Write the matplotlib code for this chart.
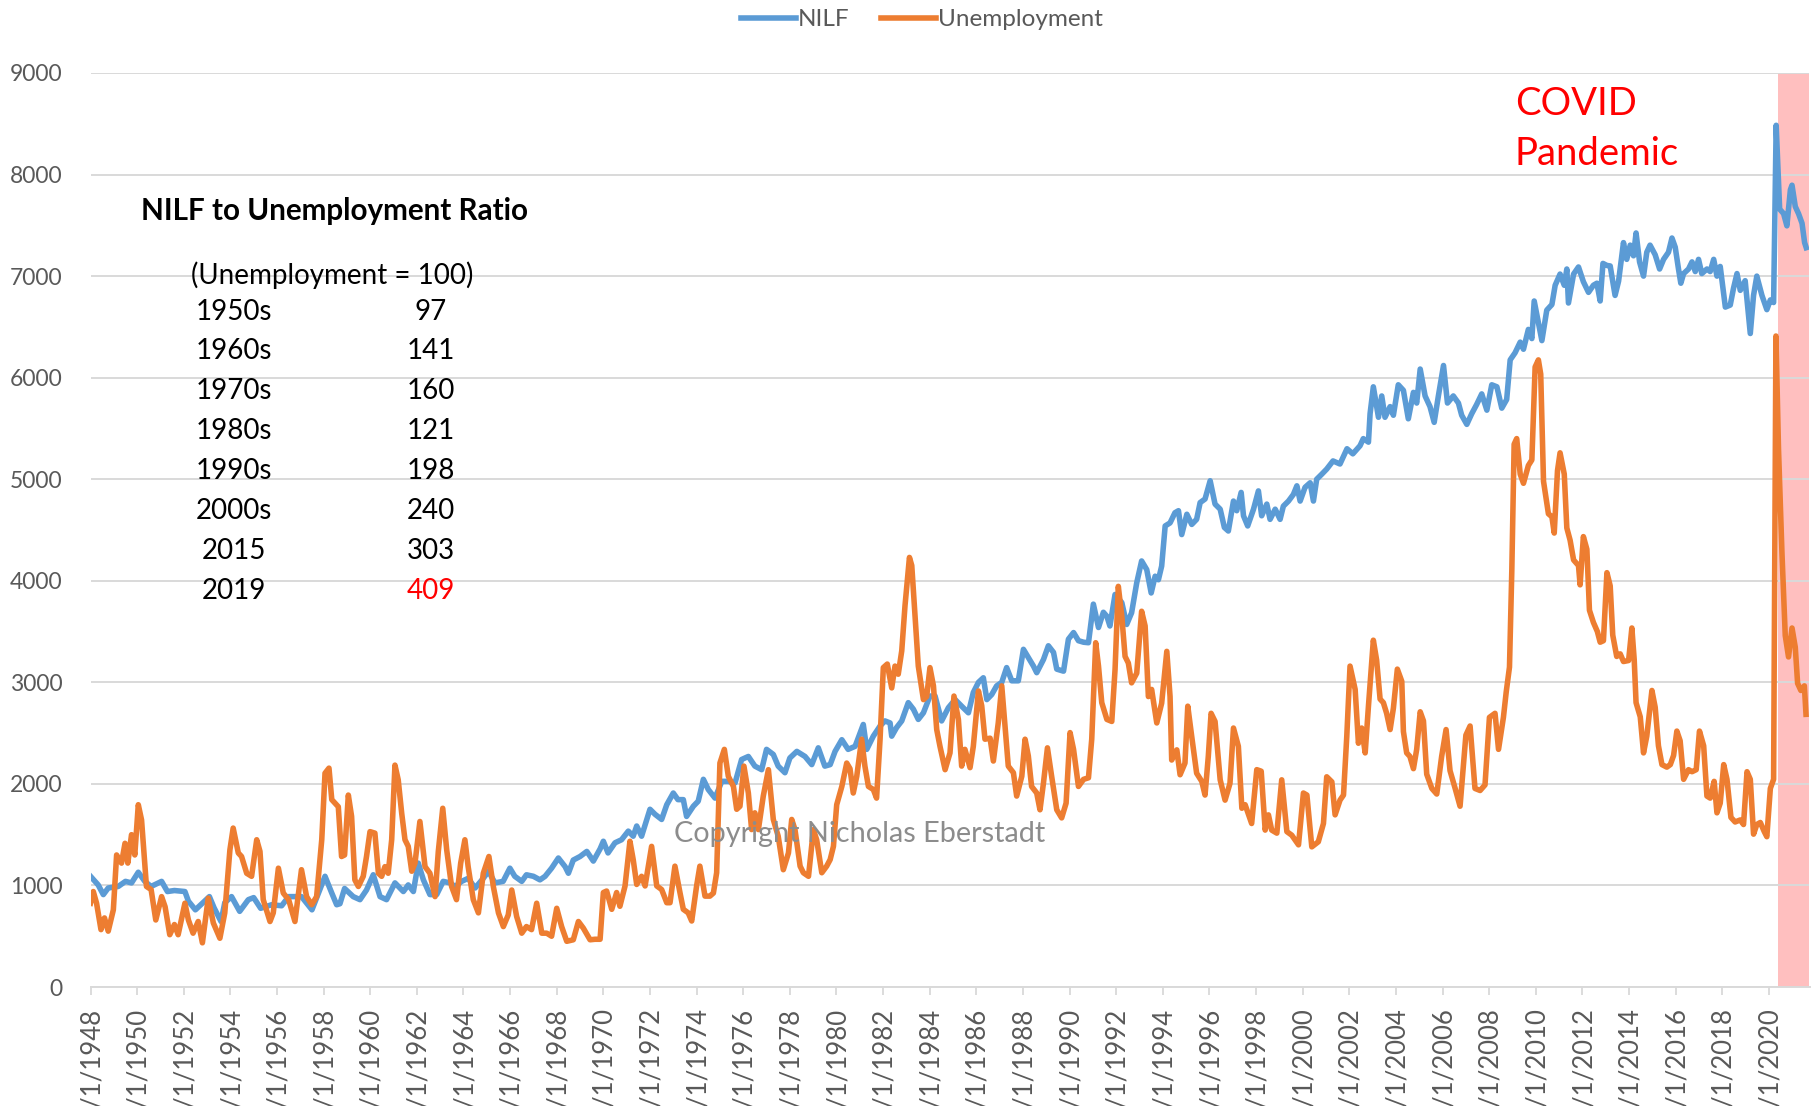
import matplotlib
matplotlib.use('Agg')
import matplotlib.pyplot as plt

plt.rcParams['font.family'] = ['Lato', 'DejaVu Sans']

# monthly series (decimal year, thousands)
nilf_years = [
  1948.00, 1948.33, 1948.55, 1948.76, 1949.19, 1949.50, 1949.76, 1950.05, 1950.33, 1950.60,
  1951.05, 1951.30, 1951.60, 1952.05, 1952.20, 1952.50, 1952.80, 1953.10, 1953.30, 1953.60,
  1953.76, 1954.05, 1954.40, 1954.77, 1955.00, 1955.30, 1955.77, 1956.20, 1956.50, 1956.80,
  1957.05, 1957.50, 1958.06, 1958.35, 1958.56, 1958.70, 1958.90, 1959.27, 1959.56, 1959.84,
  1960.13, 1960.42, 1960.70, 1961.06, 1961.42, 1961.63, 1961.85, 1962.06, 1962.28, 1962.56,
  1962.85, 1963.13, 1963.42, 1963.64, 1963.92, 1964.20, 1964.50, 1964.85, 1965.07, 1965.35,
  1965.70, 1965.99, 1966.20, 1966.50, 1966.70, 1967.00, 1967.28, 1967.50, 1967.78, 1968.07,
  1968.36, 1968.50, 1968.71, 1969.00, 1969.29, 1969.57, 1969.86, 1970.00, 1970.20, 1970.50,
  1970.78, 1971.07, 1971.28, 1971.43, 1971.64, 1972.00, 1972.22, 1972.50, 1972.72, 1973.00,
  1973.20, 1973.43, 1973.57, 1973.86, 1974.07, 1974.29, 1974.50, 1974.79, 1975.08, 1975.36,
  1975.65, 1975.93, 1976.22, 1976.50, 1976.79, 1977.00, 1977.29, 1977.50, 1977.79, 1978.00,
  1978.30, 1978.65, 1978.94, 1979.22, 1979.50, 1979.73, 1979.94, 1980.23, 1980.50, 1980.80,
  1981.15, 1981.30, 1981.58, 1981.87, 1982.08, 1982.30, 1982.37, 1982.58, 1982.80, 1983.08,
  1983.30, 1983.51, 1983.73, 1984.01, 1984.23, 1984.51, 1984.80, 1985.09, 1985.37, 1985.66,
  1985.87, 1986.09, 1986.30, 1986.45, 1986.66, 1986.87, 1987.09, 1987.30, 1987.52, 1987.80,
  1988.02, 1988.23, 1988.45, 1988.59, 1988.88, 1989.09, 1989.31, 1989.45, 1989.74, 1989.95,
  1990.17, 1990.38, 1990.60, 1990.81, 1991.02, 1991.24, 1991.45, 1991.60, 1991.73, 1991.95,
  1992.24, 1992.45, 1992.66, 1992.88, 1993.09, 1993.31, 1993.50, 1993.67, 1993.81, 1993.95,
  1994.10, 1994.31, 1994.52, 1994.67, 1994.81, 1995.03, 1995.24, 1995.45, 1995.60, 1995.81,
  1996.03, 1996.24, 1996.46, 1996.64, 1996.81, 1997.03, 1997.17, 1997.36, 1997.46, 1997.64,
  1997.89, 1998.10, 1998.24, 1998.46, 1998.60, 1998.82, 1999.03, 1999.17, 1999.39, 1999.60,
  1999.75, 1999.89, 2000.10, 2000.32, 2000.46, 2000.60, 2000.82, 2001.03, 2001.30, 2001.60,
  2001.90, 2002.15, 2002.46, 2002.60, 2002.82, 2002.89, 2003.03, 2003.25, 2003.39, 2003.53,
  2003.75, 2003.89, 2004.10, 2004.32, 2004.53, 2004.75, 2004.89, 2005.04, 2005.25, 2005.46,
  2005.64, 2005.82, 2006.04, 2006.21, 2006.46, 2006.68, 2006.82, 2007.04, 2007.25, 2007.46,
  2007.68, 2007.90, 2008.11, 2008.33, 2008.54, 2008.75, 2008.90, 2009.11, 2009.33, 2009.47,
  2009.68, 2009.83, 2009.93, 2010.11, 2010.26, 2010.47, 2010.69, 2010.83, 2011.04, 2011.22,
  2011.33, 2011.40, 2011.62, 2011.83, 2012.04, 2012.26, 2012.47, 2012.62, 2012.76, 2012.88,
  2013.05, 2013.19, 2013.40, 2013.55, 2013.76, 2013.90, 2014.05, 2014.19, 2014.30, 2014.45,
  2014.62, 2014.76, 2014.90, 2015.12, 2015.31, 2015.48, 2015.69, 2015.84, 2015.98, 2016.12,
  2016.22, 2016.34, 2016.55, 2016.70, 2016.84, 2016.98, 2017.12, 2017.34, 2017.48, 2017.63,
  2017.77, 2017.91, 2018.13, 2018.34, 2018.48, 2018.63, 2018.77, 2018.98, 2019.20, 2019.34,
  2019.48, 2019.70, 2019.91, 2020.06, 2020.20, 2020.31, 2020.46, 2020.63, 2020.77, 2020.92,
  2020.99, 2021.13, 2021.27, 2021.42, 2021.53, 2021.60]
nilf_values = [
  1090, 1005, 910, 975, 990, 1040, 1025, 1130, 1040, 990,
  1040, 940, 950, 940, 845, 760, 825, 890, 780, 645,
  830, 890, 745, 860, 880, 775, 810, 800, 890, 890,
  890, 760, 1090, 925, 810, 820, 970, 890, 860, 955,
  1105, 890, 860, 1025, 940, 1005, 940, 1220, 1055, 910,
  910, 1040, 1025, 990, 1040, 1070, 975, 1070, 1140, 1025,
  1040, 1170, 1090, 1040, 1105, 1090, 1055, 1090, 1170, 1270,
  1185, 1120, 1250, 1285, 1335, 1240, 1360, 1435, 1320, 1420,
  1450, 1535, 1485, 1585, 1485, 1750, 1700, 1650, 1795, 1910,
  1845, 1845, 1680, 1780, 1830, 2045, 1945, 1860, 2025, 2025,
  2010, 2240, 2270, 2175, 2140, 2340, 2290, 2175, 2110, 2255,
  2320, 2270, 2190, 2355, 2175, 2190, 2320, 2435, 2340, 2370,
  2585, 2340, 2470, 2570, 2620, 2600, 2470, 2555, 2620, 2800,
  2735, 2635, 2700, 2865, 2865, 2620, 2750, 2830, 2765, 2700,
  2900, 3000, 3045, 2830, 2880, 2965, 3000, 3145, 3015, 3015,
  3325, 3245, 3160, 3095, 3225, 3360, 3295, 3130, 3110, 3425,
  3490, 3410, 3395, 3390, 3770, 3540, 3690, 3650, 3555, 3865,
  3785, 3570, 3685, 3980, 4195, 4110, 3880, 4045, 4010, 4145,
  4540, 4570, 4670, 4690, 4455, 4655, 4555, 4605, 4770, 4805,
  4985, 4755, 4705, 4525, 4490, 4785, 4690, 4870, 4640, 4540,
  4705, 4885, 4640, 4755, 4605, 4705, 4605, 4735, 4785, 4850,
  4935, 4785, 4920, 4965, 4785, 5000, 5050, 5100, 5180, 5150,
  5300, 5250, 5330, 5400, 5365, 5645, 5910, 5610, 5820, 5610,
  5715, 5630, 5930, 5875, 5595, 5855, 5750, 6085, 5820, 5715,
  5560, 5820, 6120, 5750, 5820, 5750, 5630, 5540, 5645, 5735,
  5840, 5680, 5930, 5910, 5700, 5785, 6175, 6245, 6350, 6280,
  6475, 6385, 6755, 6545, 6365, 6665, 6720, 6910, 7020, 6910,
  7070, 6735, 7020, 7090, 6945, 6840, 6910, 6930, 6755, 7125,
  7105, 7100, 6810, 6950, 7330, 7165, 7305, 7200, 7425, 7140,
  7000, 7235, 7305, 7210, 7070, 7165, 7235, 7375, 7285, 7070,
  6930, 7025, 7070, 7140, 7045, 7165, 7025, 7070, 7045, 7165,
  7000, 7095, 6695, 6715, 6880, 7025, 6860, 6955, 6435, 6810,
  7000, 6810, 6670, 6765, 6740, 8485, 7660, 7615, 7495, 7850,
  7895, 7685, 7615, 7520, 7330, 7280]

unemp_years = [
  1948.00, 1948.12, 1948.26, 1948.45, 1948.60, 1948.76, 1948.98, 1949.12, 1949.33, 1949.48,
  1949.60, 1949.76, 1949.90, 1950.05, 1950.19, 1950.40, 1950.60, 1950.80, 1951.05, 1951.20,
  1951.40, 1951.60, 1951.76, 1952.05, 1952.20, 1952.40, 1952.62, 1952.80, 1953.05, 1953.27,
  1953.55, 1953.76, 1953.98, 1954.12, 1954.34, 1954.48, 1954.70, 1954.91, 1955.13, 1955.27,
  1955.41, 1955.70, 1955.84, 1956.06, 1956.27, 1956.50, 1956.77, 1957.05, 1957.27, 1957.49,
  1957.70, 1957.92, 1958.06, 1958.23, 1958.35, 1958.63, 1958.77, 1958.90, 1959.06, 1959.20,
  1959.34, 1959.49, 1959.70, 1959.84, 1959.99, 1960.20, 1960.35, 1960.49, 1960.63, 1960.77,
  1960.92, 1961.06, 1961.20, 1961.35, 1961.49, 1961.63, 1961.78, 1961.92, 1962.13, 1962.35,
  1962.56, 1962.78, 1962.92, 1963.11, 1963.28, 1963.49, 1963.70, 1963.88, 1964.06, 1964.20,
  1964.42, 1964.64, 1964.85, 1965.09, 1965.28, 1965.50, 1965.71, 1965.92, 1966.07, 1966.28,
  1966.50, 1966.70, 1966.92, 1967.14, 1967.36, 1967.57, 1967.78, 1968.00, 1968.21, 1968.43,
  1968.71, 1968.93, 1969.14, 1969.43, 1969.64, 1969.86, 1970.00, 1970.14, 1970.36, 1970.57,
  1970.71, 1970.93, 1971.14, 1971.28, 1971.43, 1971.64, 1971.79, 1972.07, 1972.29, 1972.50,
  1972.72, 1972.86, 1973.07, 1973.29, 1973.43, 1973.64, 1973.79, 1974.00, 1974.14, 1974.36,
  1974.57, 1974.72, 1974.86, 1975.00, 1975.19, 1975.36, 1975.58, 1975.72, 1975.86, 1976.03,
  1976.22, 1976.36, 1976.50, 1976.65, 1976.86, 1977.08, 1977.29, 1977.50, 1977.72, 1977.94,
  1978.08, 1978.22, 1978.44, 1978.58, 1978.80, 1979.01, 1979.15, 1979.37, 1979.58, 1979.73,
  1979.87, 1980.01, 1980.23, 1980.44, 1980.58, 1980.72, 1980.87, 1981.08, 1981.22, 1981.37,
  1981.58, 1981.72, 1981.87, 1982.01, 1982.18, 1982.37, 1982.51, 1982.65, 1982.80, 1982.94,
  1983.13, 1983.23, 1983.37, 1983.51, 1983.73, 1983.87, 1984.01, 1984.16, 1984.30, 1984.44,
  1984.66, 1984.87, 1985.04, 1985.23, 1985.37, 1985.51, 1985.73, 1985.87, 1986.09, 1986.23,
  1986.37, 1986.59, 1986.73, 1986.94, 1987.09, 1987.23, 1987.37, 1987.59, 1987.73, 1987.95,
  1988.09, 1988.23, 1988.37, 1988.59, 1988.73, 1988.88, 1989.05, 1989.23, 1989.45, 1989.66,
  1989.85, 1990.02, 1990.17, 1990.38, 1990.60, 1990.81, 1990.95, 1991.12, 1991.24, 1991.38,
  1991.60, 1991.81, 1991.95, 1992.09, 1992.24, 1992.38, 1992.52, 1992.66, 1992.88, 1993.09,
  1993.24, 1993.38, 1993.52, 1993.74, 1993.95, 1994.17, 1994.31, 1994.38, 1994.60, 1994.74,
  1994.95, 1995.07, 1995.24, 1995.45, 1995.67, 1995.81, 1995.95, 1996.07, 1996.24, 1996.46,
  1996.67, 1996.88, 1997.03, 1997.24, 1997.39, 1997.53, 1997.81, 1998.03, 1998.22, 1998.39,
  1998.53, 1998.67, 1998.89, 1999.10, 1999.32, 1999.53, 1999.82, 2000.03, 2000.18, 2000.39,
  2000.67, 2000.89, 2001.03, 2001.25, 2001.39, 2001.60, 2001.75, 2001.89, 2002.03, 2002.25,
  2002.39, 2002.53, 2002.68, 2002.82, 2003.03, 2003.17, 2003.32, 2003.46, 2003.60, 2003.75,
  2003.89, 2004.06, 2004.25, 2004.32, 2004.46, 2004.60, 2004.75, 2004.89, 2005.04, 2005.18,
  2005.32, 2005.54, 2005.75, 2005.96, 2006.15, 2006.32, 2006.54, 2006.75, 2007.00, 2007.18,
  2007.39, 2007.61, 2007.82, 2008.01, 2008.25, 2008.40, 2008.61, 2008.73, 2008.87, 2008.97,
  2009.07, 2009.18, 2009.33, 2009.47, 2009.68, 2009.83, 2009.97, 2010.11, 2010.21, 2010.33,
  2010.54, 2010.69, 2010.79, 2010.93, 2011.04, 2011.22, 2011.33, 2011.47, 2011.62, 2011.83,
  2011.90, 2012.04, 2012.19, 2012.30, 2012.47, 2012.64, 2012.76, 2012.90, 2013.05, 2013.19,
  2013.30, 2013.47, 2013.62, 2013.76, 2013.98, 2014.12, 2014.22, 2014.30, 2014.48, 2014.62,
  2014.76, 2014.98, 2015.12, 2015.26, 2015.41, 2015.62, 2015.77, 2015.91, 2016.05, 2016.19,
  2016.34, 2016.55, 2016.70, 2016.88, 2017.02, 2017.20, 2017.34, 2017.48, 2017.65, 2017.77,
  2017.91, 2018.06, 2018.20, 2018.37, 2018.55, 2018.77, 2018.91, 2019.06, 2019.20, 2019.34,
  2019.48, 2019.63, 2019.80, 2019.91, 2020.06, 2020.20, 2020.30, 2020.41, 2020.56, 2020.70,
  2020.84, 2020.99, 2021.13, 2021.23, 2021.37, 2021.52, 2021.59]
unemp_values = [
  825, 940, 825, 565, 680, 550, 760, 1300, 1220, 1415,
  1220, 1500, 1300, 1795, 1645, 990, 960, 660, 890, 790,
  515, 615, 515, 825, 660, 530, 645, 435, 875, 630,
  480, 730, 1350, 1565, 1320, 1285, 1120, 1090, 1450, 1335,
  860, 645, 730, 1170, 925, 860, 645, 1155, 890, 810,
  890, 1450, 2105, 2155, 1845, 1775, 1285, 1300, 1890, 1680,
  1055, 990, 1090, 1285, 1530, 1515, 1120, 1090, 1185, 1120,
  1450, 2185, 2040, 1710, 1450, 1385, 1140, 1220, 1630, 1185,
  1120, 890, 1335, 1760, 1350, 990, 860, 1220, 1450, 1185,
  860, 730, 1120, 1285, 990, 730, 595, 710, 955, 695,
  530, 595, 565, 825, 530, 530, 500, 775, 595, 450,
  465, 645, 580, 465, 470, 470, 930, 945, 765, 930,
  795, 995, 1435, 1255, 1010, 1090, 995, 1385, 995, 960,
  830, 830, 1190, 925, 765, 730, 650, 995, 1190, 895,
  895, 925, 1125, 2205, 2340, 2075, 1975, 1750, 1780, 2175,
  1910, 1550, 1715, 1550, 1880, 2140, 1650, 1485, 1155, 1320,
  1650, 1550, 1190, 1125, 1090, 1550, 1450, 1125, 1190, 1255,
  1385, 1795, 1975, 2205, 2150, 1910, 2075, 2440, 2175, 1975,
  1945, 1860, 2440, 3145, 3180, 2945, 3160, 3080, 3310, 3755,
  4230, 4150, 3655, 3160, 2830, 2860, 3145, 2965, 2535, 2370,
  2140, 2305, 2865, 2635, 2175, 2340, 2160, 2370, 2915, 2770,
  2440, 2450, 2225, 2600, 2965, 2570, 2175, 2110, 1880, 2075,
  2440, 2275, 1975, 1910, 1745, 2010, 2355, 2075, 1745, 1665,
  1810, 2505, 2340, 1975, 2045, 2060, 2440, 3390, 3160, 2800,
  2635, 2615, 3125, 3945, 3650, 3255, 3190, 2995, 3090, 3700,
  3555, 2860, 2930, 2600, 2795, 3305, 2860, 2235, 2335, 2090,
  2205, 2765, 2465, 2105, 2025, 1890, 2270, 2695, 2615, 2040,
  1840, 2005, 2550, 2370, 1760, 1795, 1610, 2140, 2125, 1545,
  1695, 1545, 1515, 2040, 1530, 1495, 1400, 1910, 1890, 1380,
  1430, 1610, 2070, 2020, 1695, 1840, 1890, 2465, 3160, 2930,
  2400, 2550, 2305, 2765, 3415, 3220, 2835, 2800, 2695, 2535,
  2745, 3130, 3010, 2515, 2305, 2270, 2150, 2340, 2710, 2620,
  2095, 1955, 1900, 2270, 2535, 2130, 1955, 1780, 2480, 2570,
  1955, 1935, 1990, 2655, 2695, 2340, 2655, 2905, 3150, 4100,
  5345, 5400, 5050, 4960, 5135, 5190, 6105, 6175, 6035, 4980,
  4660, 4630, 4470, 5085, 5260, 5050, 4520, 4400, 4205, 4150,
  3960, 4435, 4310, 3710, 3590, 3500, 3395, 3410, 4080, 3950,
  3465, 3255, 3280, 3205, 3215, 3535, 3225, 2800, 2660, 2305,
  2470, 2920, 2755, 2375, 2190, 2165, 2190, 2280, 2520, 2425,
  2045, 2140, 2120, 2140, 2520, 2375, 1880, 1860, 2025, 1715,
  1810, 2190, 2045, 1670, 1625, 1645, 1600, 2120, 2045, 1505,
  1600, 1620, 1530, 1480, 1955, 2045, 6410, 5300, 4265, 3460,
  3250, 3535, 3345, 2990, 2920, 2965, 2685]

tick_years = list(range(1948, 2021, 2))
tick_labels = ['1/1/{}'.format(y) for y in tick_years]

ratio_periods = ['1950s', '1960s', '1970s', '1980s', '1990s', '2000s', '2015', '2019']
ratio_values = ['97', '141', '160', '121', '198', '240', '303', '409']

covid_start = 2020.39
x_end = 2021.74

W, H = 1816, 1106
fig = plt.figure(figsize=(W / 100, H / 100), dpi=100)
ax = fig.add_axes([90.5 / W, 1 - 987 / H, (1809.5 - 90.5) / W, (987 - 73) / H])

grey = '#595959'
gridc = '#d9d9d9'

ax.axvspan(covid_start, x_end, color='#ffbfbf', zorder=0.4, lw=0)
ax.plot(nilf_years, nilf_values, color='#5b9bd5', lw=4.0, solid_joinstyle='round', label='NILF', zorder=3)
ax.plot(unemp_years, unemp_values, color='#ed7d31', lw=4.0, solid_joinstyle='round', label='Unemployment', zorder=4)

ax.set_xlim(1948, x_end)
ax.set_ylim(0, 9000)
ax.set_yticks(range(0, 9001, 1000))
ax.set_axisbelow(True)
ax.grid(axis='y', color=gridc, lw=1.4)
ax.set_xticks(tick_years)
ax.set_xticklabels(tick_labels, rotation=90, fontsize=18.5, color=grey)
ax.tick_params(axis='x', length=6, width=1.3, color=gridc, pad=8)
ax.tick_params(axis='y', length=0, labelsize=16.5, labelcolor=grey, pad=20)
for s in ['top', 'right', 'left']:
  ax.spines[s].set_visible(False)
ax.spines['bottom'].set_color(gridc)
ax.spines['bottom'].set_linewidth(1.4)

def fx(px):
  return px / W

def fy(py):
  return 1 - py / H

# ratio table
fig.text(fx(140.6), fy(220), 'NILF to Unemployment Ratio', fontsize=21.3, fontweight='bold', va='baseline', ha='left')
fig.text(fx(332.6), fy(284), '(Unemployment = 100)', fontsize=20, va='baseline', ha='center')
for i, (p, v) in enumerate(zip(ratio_periods, ratio_values)):
  base = 319.5 + i * 39.9
  fig.text(fx(233.5), fy(base), p, fontsize=20, va='baseline', ha='center')
  fig.text(fx(431), fy(base), v, fontsize=20, va='baseline', ha='center',
           color='#ff0000' if p == '2019' else 'black')

fig.text(fx(1515), fy(115.3), 'COVID', fontsize=27.5, color='#ff0000', va='baseline', ha='left')
fig.text(fx(1515), fy(165), 'Pandemic', fontsize=27.5, color='#ff0000', va='baseline', ha='left')

fig.text(fx(860), fy(841.7), 'Copyright Nicholas Eberstadt', fontsize=20.8, color='#8c8c8c',
         va='baseline', ha='center', zorder=0.5)

fig.legend(loc='upper center', bbox_to_anchor=(922 / W, 1 - 9 / H), ncol=2, frameon=False,
           fontsize=17.5, handlelength=2.25, handletextpad=0.1, columnspacing=1.3,
           borderpad=0, borderaxespad=0, labelcolor=grey)

fig.savefig('out.png', dpi=100)
